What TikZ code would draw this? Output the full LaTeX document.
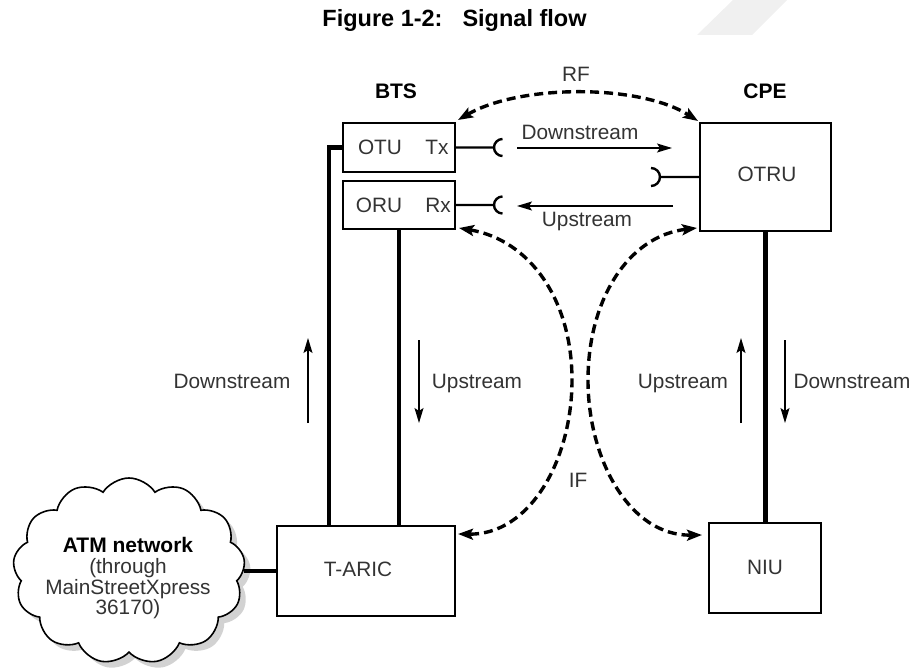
\documentclass[tikz,border=0pt]{standalone}
\usepackage{fontspec}
\setmainfont{Liberation Sans}
\usetikzlibrary{arrows.meta,shapes.symbols,calc}
\definecolor{txt}{HTML}{333333}
\tikzset{
  blk/.style={rectangle,draw=black,line width=2pt,inner sep=0pt,fill=white},
  lbl/.style={anchor=base,inner sep=0pt,text=txt,font=\fontsize{20.8}{24}\selectfont},
  hd/.style={anchor=base,inner sep=0pt,text=black,font=\fontsize{21}{24}\selectfont\bfseries},
  bus/.style={line width=4.6pt},
  sock/.style={line width=2.4pt},
  flow/.style={line width=1.2pt,-{Stealth[length=15pt,width=9pt,inset=3pt]}},
  link/.style={line width=3.4pt,dash pattern=on 9pt off 5pt,
    {Stealth[length=15pt,width=11pt,inset=3pt]}-{Stealth[length=15pt,width=11pt,inset=3pt]}},
  cloudshape/.style={cloud,cloud puffs=13,cloud puff arc=115,minimum width=232pt,minimum height=186pt,inner sep=0pt}
}
\begin{document}
\begin{tikzpicture}[x=1pt,y=-1pt]
\useasboundingbox (0,0) rectangle (916,671);
% watermark
\fill[gray!12] (733,0) -- (787,0) -- (752,35) -- (697,35) -- cycle;

% title
\node[hd,font=\fontsize{23.5}{26}\selectfont\bfseries] (ttl) at (454.5,27) {Figure 1-2:\hspace{20pt}Signal flow};
\node[hd] (bts) at (396,99) {BTS};
\node[hd] (cpe) at (765,99) {CPE};
\node[lbl] (rf) at (576,82) {RF};

% boxes
\node[blk,minimum width=112pt,minimum height=49pt] (otu) at (399,147.5) {};
\node[blk,minimum width=112pt,minimum height=48pt] (oru) at (399,205) {};
\node[blk,minimum width=131pt,minimum height=108pt] (otru) at (765.5,177) {};
\node[blk,minimum width=178pt,minimum height=90pt] (taric) at (366,571) {};
\node[blk,minimum width=112pt,minimum height=90pt] (niu) at (765,568) {};

\node[lbl] (otut) at (380,155) {OTU};
\node[lbl] (txt) at (437,155) {Tx};
\node[lbl] (orut) at (379,213) {ORU};
\node[lbl] (rxt) at (438,213) {Rx};
\node[lbl] (otrut) at (767,182) {OTRU};
\node[lbl] (niut) at (765,574) {NIU};
\node[lbl] (tarict) at (358,576) {T-ARIC};

% cloud
\node[cloudshape,fill=gray!35] (cloudsh) at (135,577) {};
\node[cloudshape,draw=black,line width=1.6pt,fill=white] (cloud) at (129,571) {};
\node[hd] (atm) at (128,552) {ATM network};
\node[lbl] (c2) at (128,573) {(through};
\node[lbl] (c3) at (128,594) {MainStreetXpress};
\node[lbl] (c4) at (128,614) {36170)};

% thick buses
\coordinate (j1) at ($(otu.west)+(-13,0)$);
\draw[bus] (otu.west) -- (j1) -- (j1 |- taric.north);
\draw[bus] (oru.south) -- (oru.south |- taric.north);
\draw[bus] (otru.south) -- (otru.south |- niu.north);
\draw[bus] (cloud.east |- taric.west) -- (taric.west);

% sockets
\draw[sock] (otu.east) -- ++(38,0) coordinate (txs) arc[start angle=180,end angle=90,radius=8.5pt];
\draw[sock] (txs) arc[start angle=180,end angle=270,radius=8.5pt];
\draw[sock] (oru.east) -- ++(38,0) coordinate (rxs) arc[start angle=180,end angle=90,radius=8.5pt];
\draw[sock] (rxs) arc[start angle=180,end angle=270,radius=8.5pt];
\draw[sock] (otru.west) -- ++(-39,0) coordinate (ots) arc[start angle=0,end angle=90,radius=9pt];
\draw[sock] (ots) arc[start angle=0,end angle=-90,radius=9pt];

% horizontal flows
\coordinate (d1) at (517,148); \coordinate (d2) at (672,148);
\draw[flow] (d1) -- (d2);
\node[lbl] (dtop) at (580,140) {Downstream};
\coordinate (u1) at (673,206); \coordinate (u2) at (517,206);
\draw[flow] (u1) -- (u2);
\node[lbl] (utop) at (587,227) {Upstream};

% vertical flows
\coordinate (a1) at (308,423); \coordinate (a2) at (308,338);
\draw[flow] (a1) -- (a2);
\node[lbl] (ldown) at (232,388) {Downstream};
\coordinate (b1) at (419,340); \coordinate (b2) at (419,423);
\draw[flow] (b1) -- (b2);
\node[lbl] (lup) at (477,388) {Upstream};
\coordinate (c1) at (741,423); \coordinate (c2p) at (741,338);
\draw[flow] (c1) -- (c2p);
\node[lbl] (rup) at (683,388) {Upstream};
\coordinate (e1) at (785,340); \coordinate (e2) at (785,423);
\draw[flow] (e1) -- (e2);
\node[lbl] (rdown) at (852,388) {Downstream};

% RF link
\draw[link] ($(otu.north east)+(2,-2)$) .. controls (520,84) and (640,84) .. ($(otru.north west)+(-1,-1)$);

% IF links
\draw[link] ($(oru.south east)+(3,-2)$) .. controls (530,240) and (572,300) .. (572,380)
  .. controls (572,460) and (530,535) .. ($(taric.north east)+(2,9)$);
\draw[link] ($(otru.south west)+(-2,-4)$) .. controls (628,236) and (588,300) .. (588,380)
  .. controls (588,460) and (630,536) .. ($(niu.north west)+(-6,13)$);
\node[lbl] (if) at (578,487) {IF};
\end{tikzpicture}
\end{document}
